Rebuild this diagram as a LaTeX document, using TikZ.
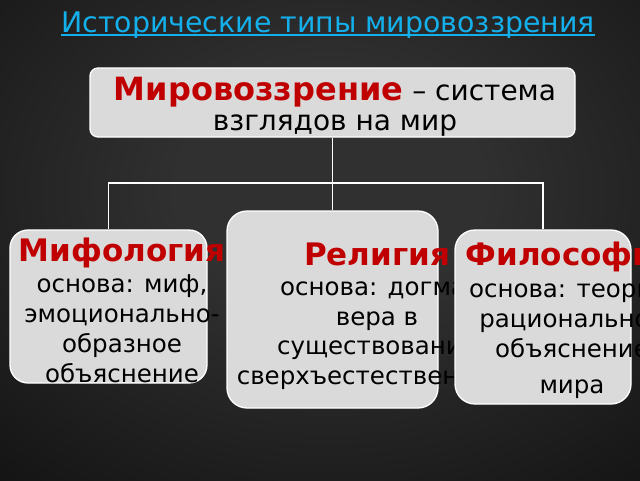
\documentclass[tikz,border=0pt]{standalone}
\usepackage{fontspec}
\setmainfont{DejaVu Sans}
\usetikzlibrary{positioning,calc}
\definecolor{titlecyan}{RGB}{20,176,236}
\definecolor{headred}{RGB}{192,0,0}
\definecolor{boxgray}{RGB}{218,218,218}
\definecolor{bgmid}{RGB}{48,48,48}
\pgfdeclareradialshading{stage}{\pgfpoint{0bp}{0bp}}{color(0bp)=(bgmid); color(6bp)=(bgmid); color(30bp)=(black); color(50bp)=(black)}
\tikzset{
  box/.style={rectangle,draw=white,line width=1.3pt,fill=boxgray,inner sep=0pt},
  head/.style={inner sep=0pt,text=headred,font=\fontsize{31}{36}\selectfont\bfseries},
  body/.style={inner sep=0pt,align=center,text=black,font=\fontsize{24.5}{30}\selectfont},
  link/.style={draw=white,line width=1.6pt}
}

\begin{document}
\begin{tikzpicture}[x=1pt,y=-1pt]
      \useasboundingbox (0,0) rectangle (640,480);
      % 背景
      \shade[shading=stage] (-310,-290) rectangle (970,670);

      % 表題
      \node[anchor=base,inner sep=0pt,text=titlecyan,font=\fontsize{28.4}{32}\selectfont] (title) at (328,32) {Исторические типы мировоззрения};
      \draw[titlecyan,line width=1.3pt] ([yshift=-3pt]title.base west) -- ([yshift=-3pt]title.base east);

      % 上の箱
      \node[box,rounded corners=8pt,minimum width=485pt,minimum height=69pt] (worldview) at (332.5,102.5) {};
      \node[anchor=base,inner sep=0pt,align=center,font=\fontsize{28}{30}\selectfont] (wvtext) at (335,130) {\textcolor{headred}{\fontsize{32}{30}\selectfont\bfseries Мировоззрение} – система\\взглядов на мир};

      % 下の箱
      \node[box,rounded corners=18pt,minimum width=197pt,minimum height=153pt] (myth) at (108.5,306.5) {};
      \node[head,anchor=base] (mythhead) at (122,261) {Мифология};
      \node[body,anchor=base] (mythbody) at (122,382) {основа: миф,\\эмоционально-\\образное\\объяснение};

      \node[box,rounded corners=20pt,minimum width=211pt,minimum height=197pt] (religion) at (332.5,309.5) {};
      \node[head,anchor=base] (relhead) at (377,265) {Религия};
      \node[body,anchor=base,font=\fontsize{24.5}{29.5}\selectfont] (relbody) at (377,384) {основа: догма,\\вера в\\существование\\сверхъестественного};

      \node[box,rounded corners=20pt,minimum width=176pt,minimum height=174pt] (philosophy) at (543,317) {};
      \node[head,anchor=base] (philhead) at (570,265) {Философия};
      \node[body,anchor=base] (philbody) at (572,393) {основа: теория,\\рациональное\\объяснение\\[6pt]мира};

      % 辺の定義
      \coordinate (fork) at (332.5,183);
      \draw[link] (worldview.south) -- (fork);
      \draw[link] (fork) -| (myth.north);
      \draw[link] (fork) -- (religion.north);
      \draw[link] (fork) -| (philosophy.north);
\end{tikzpicture}
\end{document}
